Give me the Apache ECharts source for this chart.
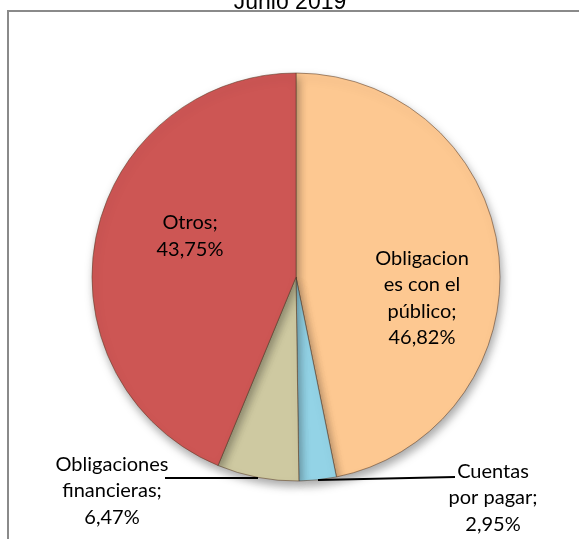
<!DOCTYPE html>
<html>
<head>
<meta charset="utf-8">
<title>Junio 2019</title>
<script src="https://cdn.jsdelivr.net/npm/echarts@6/dist/echarts.min.js"></script>
<style>
    html, body { margin: 0; padding: 0; background: #fff; }
    .pie { width: 579px; height: 539px; }
</style>
</head>
<body>
<div class="pie"></div>
<script>
const categories = ['Obligaciones con el público', 'Cuentas por pagar', 'Obligaciones financieras', 'Otros']
const wrappedNames = ['Obligacion\nes con el\npúblico', 'Cuentas\npor pagar', 'Obligaciones\nfinancieras', 'Otros']
const shares = [46.82, 2.95, 6.47, 43.75]
const sliceColors = ['#fdc891', '#93d3e6', '#cec9a1', '#cd5654']

// where Excel put each label (centre of the text block) and its leader line
const labelSpots = [
    { x: 422, y: 298 },
    { x: 493, y: 498, line: [[455, 477], [318, 480]] },
    { x: 112, y: 491, line: [[165, 478], [258, 478]] },
    { x: 190, y: 236 }
]

;(function (){
    const myChart = echarts.init(document.querySelector(".pie"))

    const data = categories.map(function (name, i) {
        return {
            name: name,
            value: shares[i],
            itemStyle: { color: sliceColors[i] }
        }
    })

    // leader lines drawn by hand, echarts keeps recomputing its own
    const leaders = labelSpots.filter(function (s) { return s.line }).map(function (s) {
        return {
            type: 'polyline',
            shape: { points: s.line },
            style: { stroke: '#000', lineWidth: 2, fill: 'none' },
            z: 10
        }
    })

    const option = {
        animation: false,
        title: {
            text: 'Junio 2019',
            left: 285,
            top: -14,
            textAlign: 'center',
            textStyle: {
                fontFamily: 'Liberation Sans',
                fontSize: 23,
                fontWeight: 'normal',
                color: '#000'
            }
        },
        graphic: [
            {
                type: 'rect',
                shape: { x: 8, y: 11, width: 640, height: 600 },
                style: { fill: 'none', stroke: '#8a8a8a', lineWidth: 2 },
                z: -1
            }
        ].concat(leaders),
        series: [
            {
                name: 'Junio 2019',
                type: 'pie',
                center: [296, 277],
                radius: 204,
                startAngle: 90,
                clockwise: true,
                itemStyle: {
                    borderColor: 'rgba(90,60,40,0.55)',
                    borderWidth: 1,
                    shadowBlur: 10,
                    shadowOffsetX: 2,
                    shadowOffsetY: 5,
                    shadowColor: 'rgba(0,0,0,0.35)'
                },
                label: {
                    show: true,
                    position: 'inside',
                    fontFamily: 'Lato',
                    fontSize: 20,
                    lineHeight: 26.5,
                    color: '#000',
                    align: 'center',
                    formatter: function (p) {
                        return wrappedNames[p.dataIndex] + ';\n' + p.value.toFixed(2).replace('.', ',') + '%'
                    }
                },
                labelLine: { show: false },
                labelLayout: function (params) {
                    const spot = labelSpots[params.dataIndex]
                    return {
                        x: spot.x,
                        y: spot.y,
                        align: 'center',
                        verticalAlign: 'middle'
                    }
                },
                emphasis: { disabled: true },
                data: data
            }
        ]
    }

    myChart.setOption(option)

    window.addEventListener("resize", function () {
        myChart.resize()
    })
})();
</script>
</body>
</html>
